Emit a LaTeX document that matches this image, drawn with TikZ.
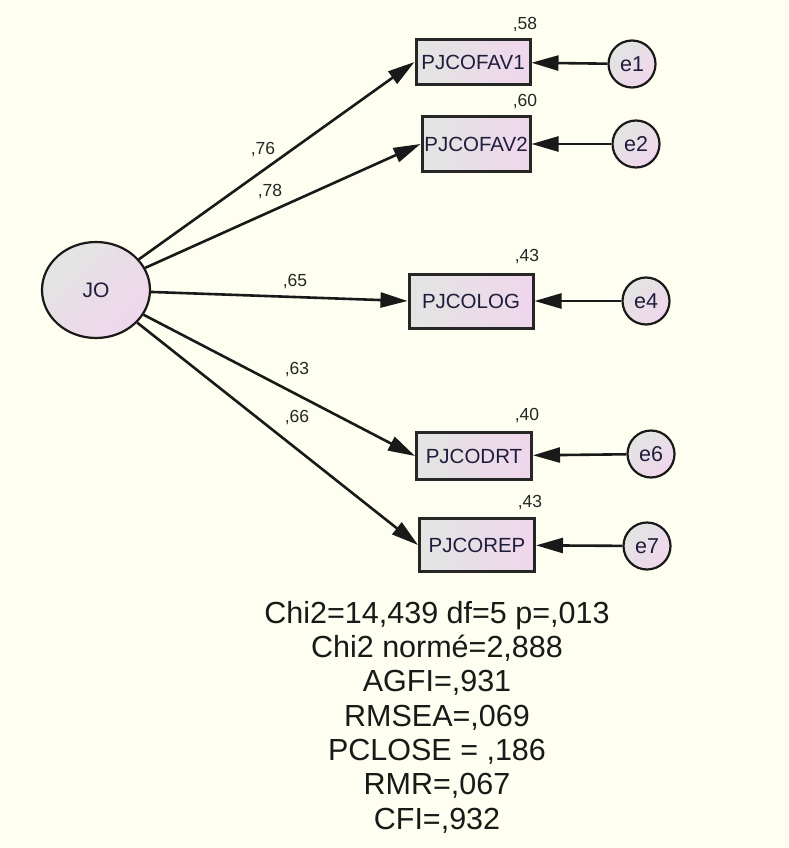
\documentclass[tikz,border=0pt]{standalone}
\usepackage{fontspec}
\setmainfont{Liberation Sans}
\usetikzlibrary{shapes.geometric,arrows.meta}
\definecolor{bgc}{RGB}{254,255,240}
\definecolor{gA}{RGB}{226,229,226}
\definecolor{gB}{RGB}{240,214,236}
\definecolor{txc}{RGB}{30,30,60}
\tikzset{
  obs/.style={draw=black!85, line width=3pt, left color=gA, right color=gB, inner sep=0pt,
    font=\fontsize{20.5}{23}\selectfont, text=txc},
  lat/.style={ellipse, draw=black!90, line width=2.2pt, shading=axis, left color=gA, right color=gB, shading angle=45,
    minimum width=108pt, minimum height=96pt, inner sep=0pt, font=\fontsize{21}{24}\selectfont, text=txc},
  err/.style={circle, draw=black!90, line width=2.2pt, left color=gA, right color=gB, shading angle=45,
    minimum size=47pt, inner sep=0pt, font=\fontsize{21.5}{24}\selectfont, text=txc},
  path/.style={line width=2.6pt, draw=black!90, -{Triangle[length=27pt,width=15pt]}},
  coef/.style={font=\fontsize{17.5}{20}\selectfont, text=black!85, inner sep=0pt},
  fitstat/.style={font=\fontsize{30.5}{34.3}\selectfont, align=center, inner sep=0pt, text=black!90}
}
\begin{document}
\begin{tikzpicture}[x=1pt,y=-1pt]
\fill[bgc] (0,0) rectangle (789,848);
\useasboundingbox (0,0) rectangle (789,848);

\node[lat] (JO) at (96,290) {JO};

\node[obs, minimum width=114pt, minimum height=45pt] (f1) at (473,62) {PJCOFAV1};
\node[obs, minimum width=108pt, minimum height=55pt] (f2) at (476,144) {PJCOFAV2};
\node[obs, minimum width=124pt, minimum height=54pt] (lg) at (471,301) {PJCOLOG};
\node[obs, minimum width=115pt, minimum height=47pt] (dr) at (474,456) {PJCODRT};
\node[obs, minimum width=115pt, minimum height=53pt] (rp) at (477,545) {PJCOREP};

\node[err] (e1) at (632,64) {e1};
\node[err] (e2) at (636,144) {e2};
\node[err] (e4) at (646,301) {e4};
\node[err] (e6) at (651,454) {e6};
\node[err] (e7) at (647,546) {e7};

\draw[path] (JO) -- (f1.west);
\draw[path] (JO) -- (f2.west);
\draw[path] (JO) -- (lg.west);
\draw[path] (JO) -- (dr.west);
\draw[path] (JO) -- (rp.west);

\draw[path] (e1) -- (f1);
\draw[path] (e2) -- (f2);
\draw[path] (e4) -- (lg);
\draw[path] (e6) -- (dr);
\draw[path] (e7) -- (rp);

\node[coef] (r1) at (525,25) {,58};
\node[coef] (r2) at (525,102) {,60};
\node[coef] (r4) at (527,257) {,43};
\node[coef] (r6) at (527,416) {,40};
\node[coef] (r7) at (530,503) {,43};

\node[coef] (l1) at (263,150) {,76};
\node[coef] (l2) at (270,192) {,78};
\node[coef] (l4) at (295,282) {,65};
\node[coef] (l6) at (297,370) {,63};
\node[coef] (l7) at (297,418) {,66};

\node[fitstat, anchor=north] (fit) at (437,601) {Chi2=14,439 df=5 p=,013\\Chi2 normé=2,888\\AGFI=,931\\RMSEA=,069\\PCLOSE = ,186\\RMR=,067\\CFI=,932};
\end{tikzpicture}
\end{document}
